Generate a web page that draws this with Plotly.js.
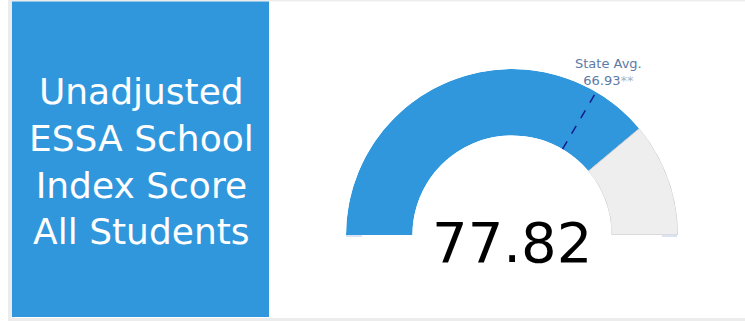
<!DOCTYPE html>
<html>
<head>
<meta charset="utf-8">
<script src="https://cdn.plot.ly/plotly-3.0.1.min.js"></script>
<style>
html,body{margin:0;padding:0;background:#fff;}
#chart{width:745px;height:321px;}
</style>
</head>
<body>
<div id="chart"></div>
<script>
// ---- data ----
const titleLines = ["Unadjusted", "ESSA School", "Index Score", "All Students"];
const gaugeRange = [0, 100];
const score = 77.82;
const stateAvg = 66.93;
const stateAvgLabel = "State Avg.";
const stateAvgSuffix = "**";

// ---- gauge scale: value -> degrees on a half circle ----
function toDeg(v) {
  return 180 * (v - gaugeRange[0]) / (gaugeRange[1] - gaugeRange[0]);
}

const W = 745, H = 321;
const px = x => x / W;
const py = y => 1 - y / H;

const filled = {
  type: 'barpolar',
  r: [1], base: [0],
  theta: [toDeg((gaugeRange[0] + score) / 2)],
  width: [toDeg(score) - toDeg(gaugeRange[0])],
  marker: {color: '#3097dd', line: {color: '#3097dd', width: 0}},
  hoverinfo: 'skip', showlegend: false
};
const rest = {
  type: 'barpolar',
  r: [1], base: [0],
  theta: [toDeg((score + gaugeRange[1]) / 2)],
  width: [toDeg(gaugeRange[1]) - toDeg(score)],
  marker: {color: '#eeeeee', line: {color: '#c8c8c8', width: 1}},
  hoverinfo: 'skip', showlegend: false
};
const avgLine = {
  type: 'scatterpolar',
  r: [0, 1],
  theta: [toDeg(stateAvg), toDeg(stateAvg)],
  mode: 'lines',
  line: {color: '#101b8c', width: 1.5, dash: 'dash'},
  hoverinfo: 'skip', showlegend: false
};

const layout = {
  width: W, height: H,
  margin: {l: 0, r: 0, t: 0, b: 0},
  paper_bgcolor: '#ffffff',
  showlegend: false,
  polar: {
    domain: {x: [px(346), px(678)], y: [py(235), py(69)]},
    sector: [0, 180],
    hole: 0.6,
    bgcolor: 'rgba(0,0,0,0)',
    radialaxis: {visible: false, range: [0, 1]},
    angularaxis: {visible: false, rotation: 180, direction: 'clockwise', range: [0, 360]},
    barmode: 'overlay'
  },
  shapes: [
    {type: 'rect', xref: 'paper', yref: 'paper', layer: 'below',
     x0: px(8), x1: 1, y0: 0, y1: 1, fillcolor: '#ececec', line: {width: 0}},
    {type: 'rect', xref: 'paper', yref: 'paper', layer: 'below',
     x0: px(12), x1: 1, y0: py(318), y1: py(1.5), fillcolor: '#ffffff', line: {width: 0}},
    {type: 'rect', xref: 'paper', yref: 'paper', layer: 'below',
     x0: px(12), x1: px(269), y0: py(317), y1: py(1.5), fillcolor: '#3097dd', line: {width: 0}},
    {type: 'line', xref: 'paper', yref: 'paper',
     x0: px(346), x1: px(362), y0: py(236), y1: py(236), line: {color: '#cfd8f0', width: 1.5}},
    {type: 'line', xref: 'paper', yref: 'paper',
     x0: px(662), x1: px(677), y0: py(236), y1: py(236), line: {color: '#cfd8f0', width: 1.5}}
  ],
  annotations: [
    {xref: 'paper', yref: 'paper', x: px(141), y: py(162), xanchor: 'center', yanchor: 'middle',
     showarrow: false, align: 'center',
     text: titleLines.join('<br>'),
     font: {family: 'DejaVu Sans', size: 36, color: '#ffffff'}},
    {xref: 'paper', yref: 'paper', x: px(512), y: py(242.5), xanchor: 'center', yanchor: 'middle',
     showarrow: false,
     text: score.toFixed(2),
     font: {family: 'DejaVu Sans', size: 56, color: '#000000'}},
    {xref: 'paper', yref: 'paper', x: px(608), y: py(72), xanchor: 'center', yanchor: 'middle',
     showarrow: false, align: 'center',
     text: stateAvgLabel + '<br>' + stateAvg.toFixed(2) + '<span style="color:#a8b4c4">' + stateAvgSuffix + '</span>',
     font: {family: 'DejaVu Sans', size: 13, color: '#5b7aa6'}}
  ]
};

Plotly.newPlot('chart', [filled, rest, avgLine], layout, {staticPlot: true, displayModeBar: false});
</script>
</body>
</html>
